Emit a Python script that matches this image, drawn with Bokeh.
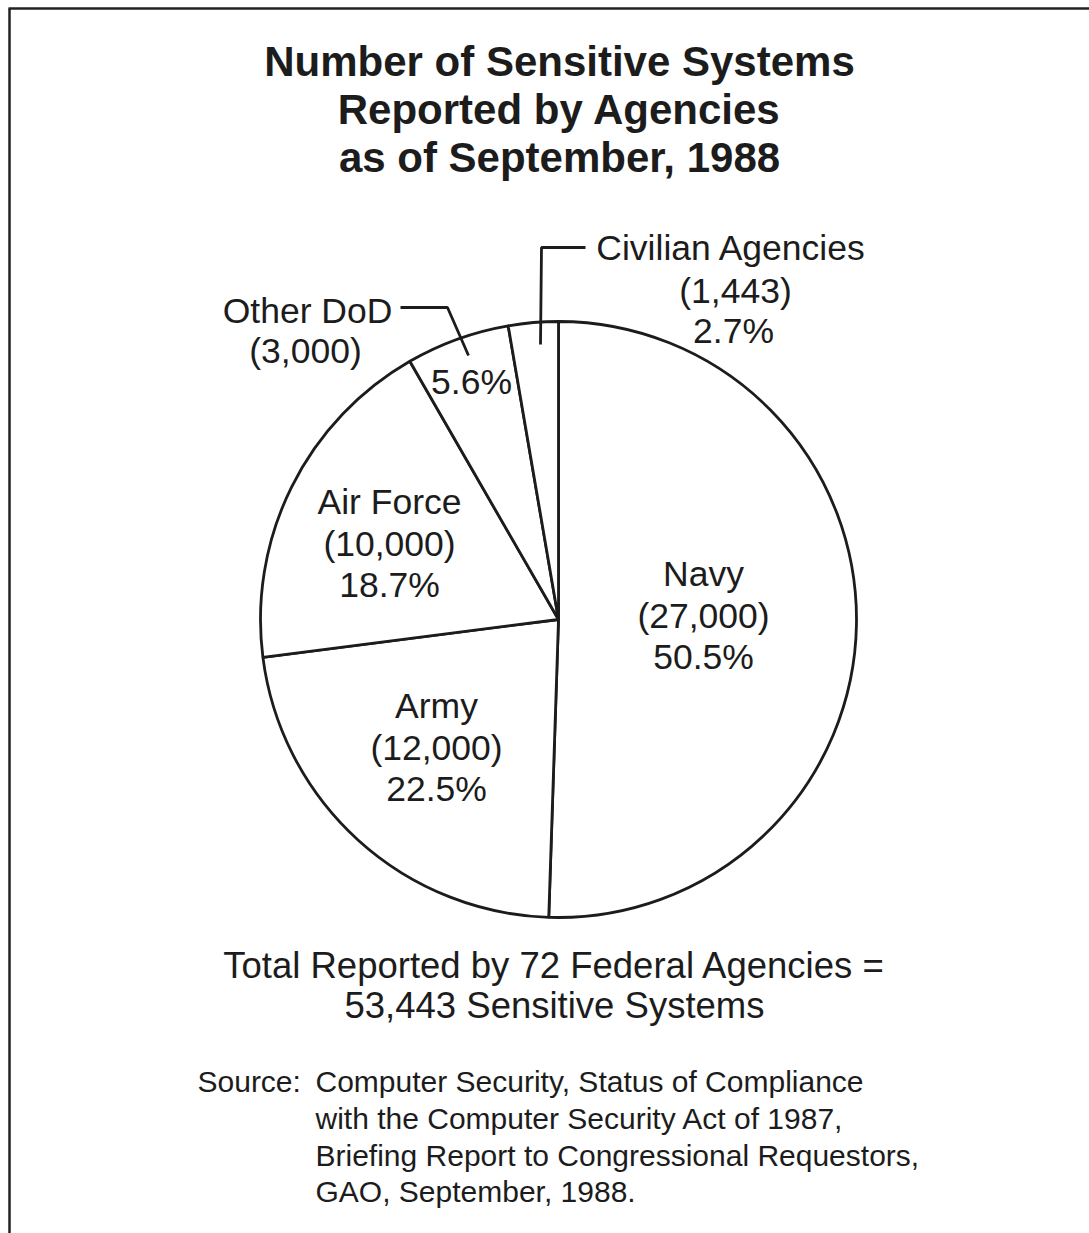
import math
from bokeh.plotting import figure
from bokeh.models import Range1d, ColumnDataSource
from bokeh.core.properties import value
from bokeh.embed import file_html
from bokeh.resources import INLINE

# ---- data ----
agencies = ["Navy", "Army", "Air Force", "Other DoD", "Civilian Agencies"]
counts = [27000, 12000, 10000, 3000, 1443]
title_lines = ["Number of Sensitive Systems", "Reported by Agencies", "as of September, 1988"]
total_lines = ["Total Reported by 72 Federal Agencies =", "53,443 Sensitive Systems"]
source_head = "Source:"
source_lines = ["Computer Security, Status of Compliance",
                "with the Computer Security Act of 1987,",
                "Briefing Report to Congressional Requestors,",
                "GAO, September, 1988."]

# ---- layout (pixel coords, y downward) ----
W, H = 1089, 1233
def Y(py):
    return H - py

CX, CY, R = 558, 619, 298
FONT = "Liberation Sans"
INK = "#1c1c1c"
DY = -12  # text baseline correction

p = figure(width=W, height=H, output_backend="svg", toolbar_location=None,
           x_range=Range1d(0, W), y_range=Range1d(0, H), min_border=0)
p.axis.visible = False
p.grid.visible = False
p.outline_line_color = None
p.background_fill_color = "white"
p.border_fill_color = "white"

# wedges
total = sum(counts)
starts, ends, cum = [], [], 0.0
for c in counts:
    f0 = cum / total
    cum += c
    f1 = cum / total
    starts.append(math.pi / 2 - 2 * math.pi * f1)
    ends.append(math.pi / 2 - 2 * math.pi * f0)
src = ColumnDataSource(dict(agency=agencies, count=counts, start=starts, end=ends))
p.wedge(x=CX, y=Y(CY), radius=R, start_angle="start", end_angle="end", source=src,
        fill_color="white", line_color=INK, line_width=2.8)

# frame lines
p.line([8, W], [Y(8), Y(8)], line_color="#222222", line_width=2.5)
p.line([9, 9], [Y(8), 0], line_color="#222222", line_width=2.5)

def txt(x, py, s, size, bold=False, align="center"):
    p.text(x=[x], y=[Y(py + DY)], text=[s], text_font=value(FONT), text_font_size=value(f"{size}px"),
           text_font_style="bold" if bold else "normal", text_align=align,
           text_baseline="alphabetic", text_color=INK)

# title
for line, by in zip(title_lines, [73, 121, 169]):
    txt(559, by, line, 42, bold=True)

# slice labels
pct = [f"{100.0 * c / total:.1f}%" for c in counts]
cnt = [f"({c:,})" for c in counts]
label_layout = {
    "Navy": (703, [585, 627, 668]),
    "Army": (436, [717, 759, 800]),
    "Air Force": (389, [513, 555, 596]),
}
for i, a in enumerate(agencies):
    if a in label_layout:
        x, bys = label_layout[a]
        for s, by in zip([a, cnt[i], pct[i]], bys):
            txt(x, by, s, 35.5)

# Other DoD
i = agencies.index("Other DoD")
txt(307, 322, agencies[i], 35.5)
txt(305, 362, cnt[i], 35.5)
txt(471, 393, pct[i], 35.5)
p.line([400, 447, 468], [Y(307), Y(307), Y(355)], line_color=INK, line_width=2.8)

# Civilian Agencies
i = agencies.index("Civilian Agencies")
txt(731, 259, agencies[i], 35.5)
txt(735, 302, cnt[i], 35.5)
txt(733, 342, pct[i], 35.5)
p.line([540, 541, 585], [Y(344), Y(247), Y(247)], line_color=INK, line_width=2.8)

# total
txt(554, 977, total_lines[0], 36.5)
txt(554, 1017, total_lines[1], 36.5)

# source
txt(197, 1093, source_head, 30, align="left")
for s, by in zip(source_lines, [1093, 1130, 1167, 1203]):
    txt(315, by, s, 30, align="left")

open("out.html", "w").write(file_html(p, INLINE))
